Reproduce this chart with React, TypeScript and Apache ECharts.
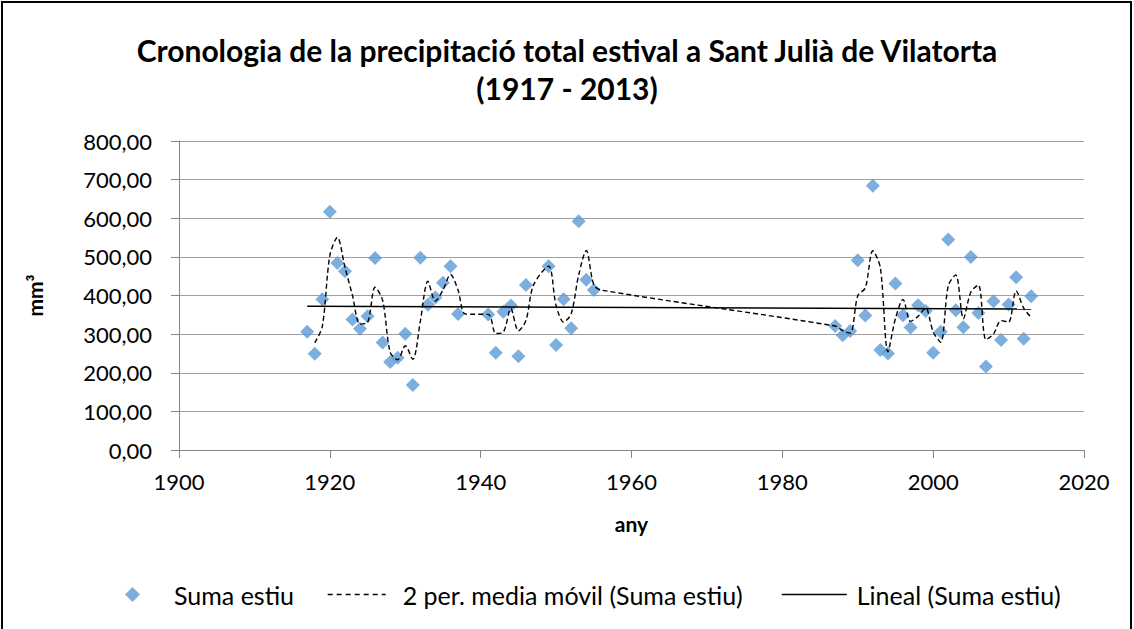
import React, { useEffect, useRef } from "react";
import * as echarts from "echarts";

const years = [
  1917, 1918, 1919, 1920, 1921, 1922, 1923, 1924, 1925, 1926, 1927, 1928, 1929, 1930, 1931, 1932, 1933, 1934, 1935, 1936, 1937,
  1941, 1942, 1943, 1944, 1945, 1946,
  1949, 1950, 1951, 1952, 1953, 1954, 1955,
  1987, 1988, 1989, 1990, 1991, 1992, 1993, 1994, 1995, 1996, 1997, 1998, 1999, 2000,
  2001, 2002, 2003, 2004, 2005, 2006, 2007, 2008, 2009, 2010, 2011, 2012, 2013,
];
const sumaEstiu = [
  306, 249, 390, 617, 484, 463, 338, 314, 346, 497, 278, 228, 239, 301, 168, 498, 376, 395, 433, 476, 352,
  351, 252, 358, 374, 243, 427,
  476, 272, 390, 315, 592, 441, 414,
  321, 297, 308, 491, 348, 684, 259, 250, 431, 349, 317, 375, 360, 252,
  306, 545, 362, 318, 500, 355, 216, 385, 285, 377, 447, 288, 398,
];

const xMin = 1900;
const xMax = 2020;
const xInterval = 20;
const yMin = 0;
const yMax = 800;
const yInterval = 100;

const titleText = "Cronologia de la precipitació total estival a Sant Julià de Vilatorta\n(1917 - 2013)";
const nameScatter = "Suma estiu";
const nameMA = "2 per. media móvil (Suma estiu)";
const nameLin = "Lineal (Suma estiu)";

const FONT = "Lato, 'Open Sans', sans-serif";

// 2-period moving average as Excel computes it over the yearly rows (blank years included)
function movingAverage(): [number, number][] {
  const out: [number, number][] = [];
  for (let i = 1; i < years.length; i++) {
    const gap = years[i] - years[i - 1];
    if (gap === 1) {
      out.push([years[i], (sumaEstiu[i - 1] + sumaEstiu[i]) / 2]);
    } else {
      out.push([years[i - 1] + 1, sumaEstiu[i - 1]]);
      out.push([years[i], sumaEstiu[i]]);
    }
  }
  return out;
}

function linearTrend(): [number, number][] {
  const n = years.length;
  let sx = 0, sy = 0, sxx = 0, sxy = 0;
  for (let i = 0; i < n; i++) {
    sx += years[i];
    sy += sumaEstiu[i];
    sxx += years[i] * years[i];
    sxy += years[i] * sumaEstiu[i];
  }
  const b = (n * sxy - sx * sy) / (n * sxx - sx * sx);
  const a = (sy - b * sx) / n;
  const x0 = years[0];
  const x1 = years[n - 1];
  return [
    [x0, a + b * x0],
    [x1, a + b * x1],
  ];
}

export default function App() {
  const ref = useRef<HTMLDivElement>(null);
  useEffect(() => {
    const chart = echarts.init(ref.current!, null, { renderer: "svg" });
    const legendText = { fontSize: 25, fontFamily: FONT, color: "#000" };
    chart.setOption({
      animation: false,
      backgroundColor: "#fff",
      title: {
        text: titleText,
        left: "center",
        top: 26,
        textStyle: { fontSize: 30, fontWeight: "bold", fontFamily: FONT, color: "#000", lineHeight: 38 },
      },
      grid: { left: 179, right: 50, top: 141, bottom: 179 },
      xAxis: {
        type: "value",
        min: xMin,
        max: xMax,
        interval: xInterval,
        name: "any",
        nameLocation: "middle",
        nameGap: 63,
        nameTextStyle: { fontSize: 21, fontWeight: "bold", fontFamily: FONT, color: "#000" },
        axisLine: { show: true, lineStyle: { color: "#868686", width: 1 } },
        axisTick: { show: true, length: 8, inside: false, lineStyle: { color: "#868686" } },
        axisLabel: { fontSize: 22, fontFamily: FONT, color: "#000", margin: 20, formatter: (v: number) => String(v) },
        splitLine: { show: false },
      },
      yAxis: {
        type: "value",
        min: yMin,
        max: yMax,
        interval: yInterval,
        name: "mm³",
        nameLocation: "middle",
        nameGap: 134,
        nameTextStyle: { fontSize: 21, fontWeight: "bold", fontFamily: FONT, color: "#000" },
        axisLine: { show: true, lineStyle: { color: "#868686", width: 1 } },
        axisTick: { show: true, length: 8, inside: false, lineStyle: { color: "#868686" } },
        axisLabel: {
          fontSize: 22,
          fontFamily: FONT,
          color: "#000",
          margin: 27,
          formatter: (v: number) => v.toFixed(2).replace(".", ","),
        },
        splitLine: { show: true, lineStyle: { color: "#A0A0A0", width: 1 } },
      },
      legend: [
        {
          data: [nameScatter],
          left: 125,
          top: 582,
          padding: 0,
          itemWidth: 15,
          itemHeight: 15,
          textStyle: { ...legendText, padding: [0, 0, 0, 29] },
        },
        {
          data: [nameMA],
          left: 327,
          top: 582,
          padding: 0,
          itemWidth: 58,
          itemHeight: 14,
          itemStyle: { opacity: 0 },
          lineStyle: { color: "#000", width: 1.4, type: [5, 4] },
          textStyle: { ...legendText, padding: [0, 0, 0, 12] },
        },
        {
          data: [nameLin],
          left: 781,
          top: 582,
          padding: 0,
          itemWidth: 65,
          itemHeight: 14,
          itemStyle: { opacity: 0 },
          lineStyle: { color: "#000", width: 1.5, type: "solid" },
          textStyle: { ...legendText, padding: [0, 0, 0, 5] },
        },
      ],
      series: [
        {
          name: nameScatter,
          type: "scatter",
          symbol: "diamond",
          symbolSize: 14,
          itemStyle: { color: "#5B9BD5" },
          data: years.map((y, i) => [y, sumaEstiu[i]]),
          z: 2,
        },
        {
          name: nameMA,
          type: "line",
          symbol: "none",
          showSymbol: false,
          smooth: 0.3,
          itemStyle: { color: "#000" },
          lineStyle: { color: "#000", width: 1.4, type: [5, 3] },
          data: movingAverage(),
          z: 3,
        },
        {
          name: nameLin,
          type: "line",
          symbol: "none",
          showSymbol: false,
          itemStyle: { color: "#000" },
          lineStyle: { color: "#000", width: 1.5, type: "solid" },
          data: linearTrend(),
          z: 3,
        },
      ],
    });
    return () => chart.dispose();
  }, []);
  return (
    <div style={{ position: "fixed", left: 0, top: 0, width: 1134, height: 629, overflow: "hidden", background: "#fff" }}>
      <div ref={ref} style={{ width: 1134, height: 629 }} />
      <div
        style={{
          position: "absolute",
          left: 1,
          top: 1,
          width: 1131,
          height: 650,
          border: "2px solid #000",
          boxSizing: "border-box",
          pointerEvents: "none",
        }}
      />
    </div>
  );
}
